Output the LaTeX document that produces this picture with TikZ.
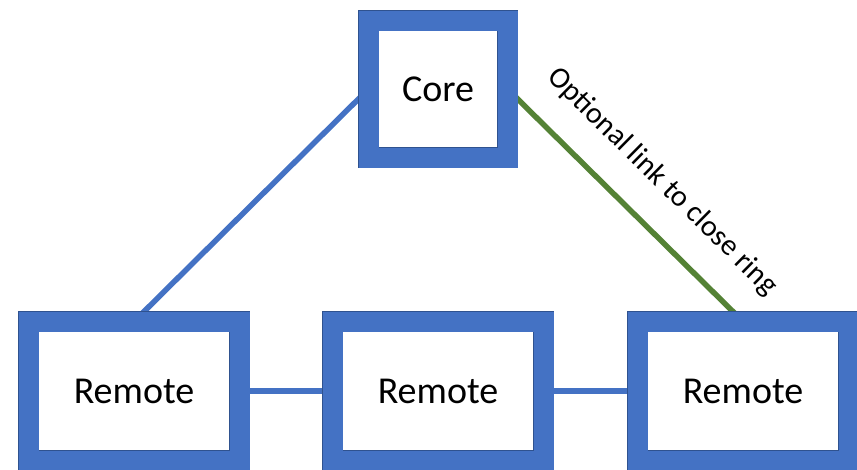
\documentclass[tikz,border=0pt]{standalone}
\usepackage{fontspec}
\setmainfont{Carlito}
\usetikzlibrary{backgrounds}
\definecolor{boxblue}{HTML}{4472C4}
\definecolor{boxedge}{HTML}{2F528F}
\definecolor{linkgreen}{HTML}{548235}
\tikzset{
  site/.style={draw=boxedge, line width=0.7pt, double=boxblue, double distance=20pt,
    fill=white, outer sep=0pt, inner sep=0pt, font=\fontsize{38}{45}\selectfont},
  corebox/.style={site, minimum width=139pt, minimum height=137pt},
  remotebox/.style={site, minimum width=211pt, minimum height=139pt},
  ringlink/.style={line width=5.5pt, boxblue},
  optlink/.style={line width=5.5pt, linkgreen},
  linklabel/.style={font=\fontsize{30}{36}\selectfont, text=black, inner sep=0pt}
}
\begin{document}
\begin{tikzpicture}[x=1pt, y=-1pt]
  \useasboundingbox (0,0) rectangle (857,469);
  \clip (0,0) rectangle (857,469);
  \node[corebox]   (core) at (438,89)  {Core};
  \node[remotebox] (r1)   at (134,391) {Remote};
  \node[remotebox] (r2)   at (438,391) {Remote};
  \node[remotebox] (r3)   at (743,391) {Remote};
  \begin{pgfonlayer}{background}
    \draw[ringlink] (r1.north) -- (core.west);
    \draw[ringlink] (r1.east) -- (r2.west);
    \draw[ringlink] (r2.east) -- (r3.west);
    \draw[optlink] (core.east) -- (r3.north)
      node[linklabel, pos=0.53, sloped, above=27pt] {Optional link to close ring};
  \end{pgfonlayer}
\end{tikzpicture}
\end{document}
